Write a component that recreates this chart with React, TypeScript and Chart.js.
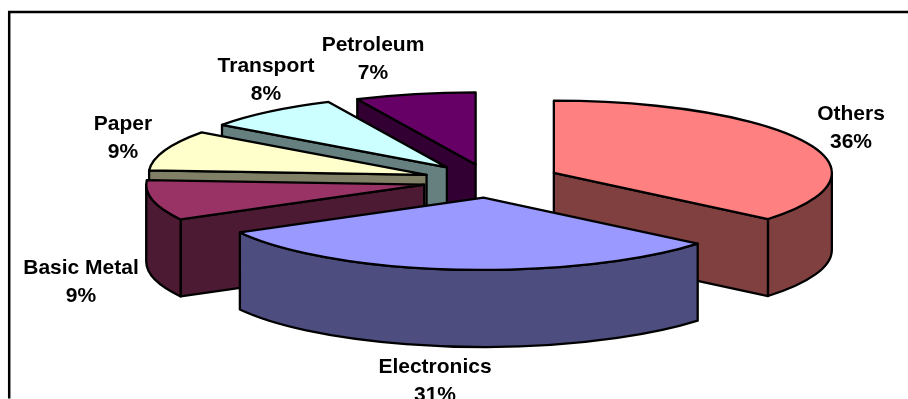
import React, { useEffect, useRef } from "react";
import { Chart, registerables, Plugin } from "chart.js";

Chart.register(...registerables);

// Share of each sector, in percent, clockwise from twelve o'clock.
const categories = ["Others", "Electronics", "Basic Metal", "Paper", "Transport", "Petroleum"];
const shares = [36, 31, 9, 9, 8, 7];
const topColors = ["#FF8080", "#9999FF", "#993366", "#FFFFCC", "#CCFFFF", "#660066"];
const sideColors = ["#804040", "#4D4D80", "#4D1A33", "#808066", "#668080", "#330033"];

// How far each slice is pulled away from the pie centre.
const explode = [71, 65, 67, 67, 67, 64];

// Centre of each two-line data label: x, and y of the first line.
const labelX = [851, 435, 81, 123, 266, 373];
const labelY = [114, 367, 268, 124, 66, 45];

const WIDTH = 908;
const HEIGHT = 399;
const RADIUS = 278;
const TILT = 0.26; // vertical squash of the pie disc
const DEPTH = 77; // height of the extruded slices
const LINE_GAP = 28.5;

const pie3d: Plugin<"pie"> = {
  id: "pie3d",
  // The flat arcs are replaced by the extruded solids drawn below.
  beforeDatasetDraw() {
    return false;
  },
  afterDatasetsDraw(chart) {
    const ctx = chart.ctx;
    const arcs = chart.getDatasetMeta(0).data as any[];

    const solids = arcs.map((arc, i) => {
      const props = arc.getProps(["x", "y", "startAngle", "endAngle", "outerRadius"], true);
      const mid = (props.startAngle + props.endAngle) / 2;
      const offset = arc.options.offset as number;
      return {
        i,
        a0: props.startAngle as number,
        a1: props.endAngle as number,
        r: props.outerRadius as number,
        cx: props.x + Math.cos(mid) * offset,
        cy: props.y + Math.sin(mid) * offset * TILT,
      };
    });

    ctx.save();
    ctx.lineWidth = 2.3;
    ctx.lineJoin = "round";
    ctx.strokeStyle = "#000";

    // Farther slices first, so nearer ones paint over them.
    [...solids].sort((p, q) => p.cy - q.cy).forEach((s) => {
      const ry = s.r * TILT;
      const px = (t: number) => s.cx + s.r * Math.cos(t);
      const py = (t: number) => s.cy + ry * Math.sin(t);
      const paint = (fill: string) => {
        ctx.fillStyle = fill;
        ctx.fill();
        ctx.stroke();
      };
      const radialFace = (t: number) => {
        ctx.beginPath();
        ctx.moveTo(s.cx, s.cy);
        ctx.lineTo(px(t), py(t));
        ctx.lineTo(px(t), py(t) + DEPTH);
        ctx.lineTo(s.cx, s.cy + DEPTH);
        ctx.closePath();
        paint(sideColors[s.i]);
      };

      // Radial faces turned towards the viewer.
      if (Math.cos(s.a1) > 1e-6) radialFace(s.a1);
      if (Math.cos(s.a0) < -1e-6) radialFace(s.a0);

      // Curved rim: only the lower half of the ellipse is visible.
      const rim0 = Math.max(s.a0, 0);
      const rim1 = Math.min(s.a1, Math.PI);
      if (rim1 > rim0) {
        ctx.beginPath();
        ctx.ellipse(s.cx, s.cy, s.r, ry, 0, rim0, rim1);
        ctx.lineTo(px(rim1), py(rim1) + DEPTH);
        ctx.ellipse(s.cx, s.cy + DEPTH, s.r, ry, 0, rim1, rim0, true);
        ctx.closePath();
        paint(sideColors[s.i]);
      }

      // Top surface.
      ctx.beginPath();
      ctx.moveTo(s.cx, s.cy);
      ctx.ellipse(s.cx, s.cy, s.r, ry, 0, s.a0, s.a1);
      ctx.closePath();
      paint(topColors[s.i]);
    });

    // Chart frame, open towards the right and bottom edges.
    ctx.lineWidth = 2.5;
    ctx.lineJoin = "miter";
    ctx.beginPath();
    ctx.moveTo(9.2, 398.5);
    ctx.lineTo(9.2, 12);
    ctx.lineTo(WIDTH, 12);
    ctx.stroke();

    // Data labels: category name above its percentage.
    ctx.fillStyle = "#000";
    ctx.font = 'bold 21px "Liberation Sans", Arial, sans-serif';
    ctx.textAlign = "center";
    ctx.textBaseline = "middle";
    categories.forEach((name, i) => {
      ctx.fillText(name, labelX[i], labelY[i]);
      ctx.fillText(`${shares[i]}%`, labelX[i], labelY[i] + LINE_GAP);
    });
    ctx.restore();
  },
};

export default function App() {
  const canvasRef = useRef<HTMLCanvasElement>(null);

  useEffect(() => {
    const chart = new Chart(canvasRef.current!, {
      type: "pie",
      data: {
        labels: categories,
        datasets: [
          {
            data: shares,
            backgroundColor: topColors,
            offset: explode,
            borderWidth: 0,
          },
        ],
      },
      options: {
        responsive: false,
        animation: false,
        radius: RADIUS,
        layout: { padding: { left: 71.2, bottom: 37.4 } },
        plugins: { legend: { display: false }, tooltip: { enabled: false } },
      },
      plugins: [pie3d],
    });
    return () => chart.destroy();
  }, []);

  return (
    <canvas
      ref={canvasRef}
      width={WIDTH}
      height={HEIGHT}
      style={{ position: "fixed", left: 0, top: 0, background: "#fff" }}
    />
  );
}
